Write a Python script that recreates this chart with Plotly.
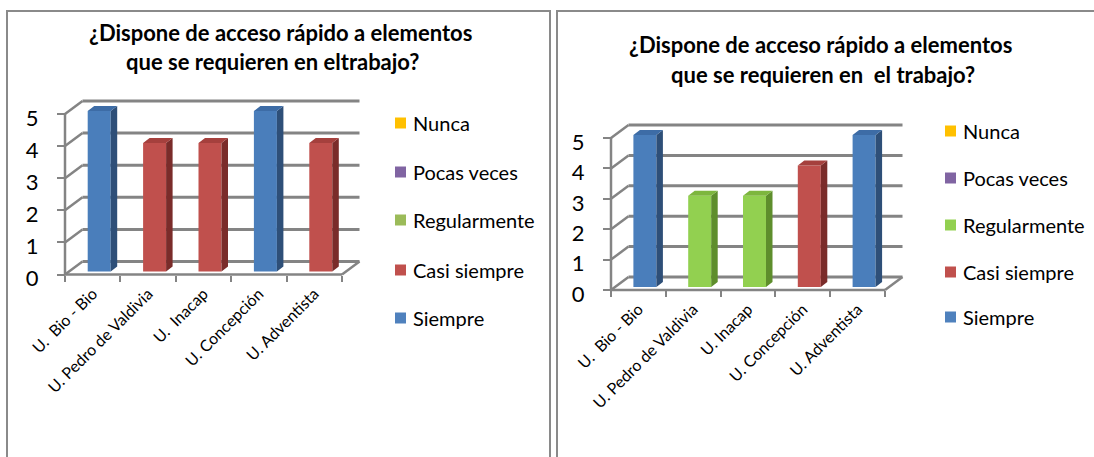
import plotly.graph_objects as go

W, H = 1094, 457

# ---------------- data ----------------
categories_left = ["U.\u00a0 Bio - Bio", "U. Pedro de Valdivia", "U.\u00a0 Inacap", "U. Concepción", "U. Adventista"]
categories_right = ["U.\u00a0 Bio - Bio", "U. Pedro de Valdivia", "U. Inacap", "U. Concepción", "U. Adventista"]
series_names = ["Nunca", "Pocas veces", "Regularmente", "Casi siempre", "Siempre"]

left_nunca = [0, 0, 0, 0, 0]
left_pocas_veces = [0, 0, 0, 0, 0]
left_regularmente = [0, 0, 0, 0, 0]
left_casi_siempre = [0, 4, 4, 0, 4]
left_siempre = [5, 0, 0, 5, 0]

right_nunca = [0, 0, 0, 0, 0]
right_pocas_veces = [0, 0, 0, 0, 0]
right_regularmente = [0, 3, 3, 0, 0]
right_casi_siempre = [0, 0, 0, 4, 0]
right_siempre = [5, 0, 0, 0, 5]

y_ticks = [0, 1, 2, 3, 4, 5]
title_left = ["¿Dispone de acceso rápido a elementos", "que se requieren en eltrabajo?"]
title_right = ["¿Dispone de acceso rápido a elementos", "que se requieren en\u00a0 el trabajo?"]

# ---------------- styles ----------------
FONT = "Lato, Carlito, 'Open Sans', sans-serif"
GRID = "#848484"
legend_colors_left = ["#FFC000", "#8064A2", "#9BBB59", "#C0504D", "#4F81BD"]
legend_colors_right = ["#FFC000", "#8064A2", "#92D050", "#C0504D", "#4F81BD"]
face_colors = {
    "Nunca": ("#FFC000", "#B38600", "#E0A800"),
    "Pocas veces": ("#8064A2", "#553F70", "#6D548C"),
    "Regularmente": ("#92D050", "#5E8E2C", "#7DB63E"),
    "Casi siempre": ("#C0504D", "#7A2C2A", "#A5403D"),
    "Siempre": ("#4A7EBB", "#2E4F78", "#3D6CA6"),
}

panels = [
    dict(xa="x", ya="y", cats=categories_left, title=title_left,
         series=[left_nunca, left_pocas_veces, left_regularmente, left_casi_siempre, left_siempre],
         legend_colors=legend_colors_left,
         x0=65, cw=55.4, y0=274.5, uy=32.1, dom_x=(15, 385), dom_y=(80, 300),
         title_x=(280, 272.5), title_y=(32, 62),
         leg_x=395, leg_y=[123, 172, 220, 270, 318]),
    dict(xa="x2", ya="y2", cats=categories_right, title=title_right,
         series=[right_nunca, right_pocas_veces, right_regularmente, right_casi_siempre, right_siempre],
         legend_colors=legend_colors_right,
         x0=611, cw=54.8, y0=290, uy=30.4, dom_x=(565, 925), dom_y=(95, 320),
         title_x=(820, 823), title_y=(45, 74),
         leg_x=945, leg_y=[131, 178, 225, 272, 317]),
]

fig = go.Figure()
shapes = []
annotations = []
layout_axes = {}

for pi, p in enumerate(panels):
    cw, uy = p["cw"], p["uy"]
    DX, DY = 17.5 / cw, 13 / uy          # depth of back wall
    SX, SY = 6.5 / cw, 3 / uy            # bar front-face shift
    BDX, BDY = 6.5 / cw, 5 / uy          # bar depth
    BW = 23 / cw
    n = len(p["cats"])
    xl, xr = -0.5, n - 0.5
    ymax = max(y_ticks)
    xa, ya = p["xa"], p["ya"]

    def px2x(px, p=p):
        return (px - p["x0"]) / p["cw"] - 0.5

    def py2y(py, p=p):
        return (p["y0"] - py) / p["uy"]

    sfx = "" if pi == 0 else "2"
    layout_axes["xaxis" + sfx] = dict(
        domain=[p["dom_x"][0] / W, p["dom_x"][1] / W],
        range=[px2x(p["dom_x"][0]), px2x(p["dom_x"][1])],
        anchor="free", position=1 - p["y0"] / H,
        tickvals=list(range(n)), ticktext=p["cats"], tickangle=-45,
        ticks="", showgrid=False, zeroline=False, showline=False,
        tickfont=dict(family=FONT, size=16, color="#000"),
        ticklabelstandoff=6,
        minor=dict(tickvals=[i - 0.5 for i in range(n + 1)], ticks="outside",
                   ticklen=6, tickwidth=2, tickcolor=GRID, showgrid=False),
        automargin=False, fixedrange=True,
    )
    layout_axes["yaxis" + sfx] = dict(
        domain=[1 - p["dom_y"][1] / H, 1 - p["dom_y"][0] / H],
        range=[py2y(p["dom_y"][1]), py2y(p["dom_y"][0])],
        anchor="free", position=p["x0"] / W,
        tickvals=y_ticks, ticks="outside", ticklen=8, tickwidth=2, tickcolor=GRID,
        showgrid=False, zeroline=False, showline=False,
        tickfont=dict(family=FONT, size=22, color="#000"),
        ticklabelstandoff=14, ticklabelshift=4,
        automargin=False, fixedrange=True,
    )

    # 3D frame: back wall gridlines, side wall diagonals, floor, front axis
    def seg(xa_, ya_, x0, y0, x1, y1, width=2.5, color=GRID):
        shapes.append(dict(type="line", xref=xa_, yref=ya_, x0=x0, y0=y0, x1=x1, y1=y1,
                           line=dict(color=color, width=width), layer="below"))

    for k in y_ticks:
        seg(xa, ya, xl + DX, k + DY, xr + DX, k + DY, width=3)
        seg(xa, ya, xl, k, xl + DX, k + DY)
    seg(xa, ya, xl, 0, xr, 0)
    seg(xa, ya, xr, 0, xr + DX, DY)
    seg(xa, ya, xl, 0, xl, ymax)

    # bars (stacked series)
    base = [0] * n
    for s_name, vals in zip(series_names, p["series"]):
        idx = [i for i in range(n) if vals[i] > 0]
        front, side, top = face_colors[s_name]
        if idx:
            fig.add_trace(go.Bar(
                x=[i + SX for i in idx], y=[vals[i] for i in idx],
                base=[base[i] + SY for i in idx], width=BW,
                marker=dict(color=front, line=dict(width=0)),
                xaxis=xa, yaxis=ya, name=s_name, showlegend=False,
                hovertemplate="%{customdata}: %{y}<extra>" + s_name + "</extra>",
                customdata=[p["cats"][i] for i in idx],
            ))
            sx, sy, tx, ty = [], [], [], []
            for i in idx:
                b = base[i] + SY
                t = base[i] + vals[i] + SY
                L = i + SX - BW / 2
                R = i + SX + BW / 2
                sx += [R, R + BDX, R + BDX, R, R, None]
                sy += [b, b + BDY, t + BDY, t, b, None]
                tx += [L, L + BDX, R + BDX, R, L, None]
                ty += [t, t + BDY, t + BDY, t, t, None]
            fig.add_trace(go.Scatter(x=sx, y=sy, fill="toself", fillcolor=side, mode="lines",
                                     line=dict(width=0, color=side), xaxis=xa, yaxis=ya,
                                     showlegend=False, hoverinfo="skip"))
            fig.add_trace(go.Scatter(x=tx, y=ty, fill="toself", fillcolor=top, mode="lines",
                                     line=dict(width=0, color=top), xaxis=xa, yaxis=ya,
                                     showlegend=False, hoverinfo="skip"))
        for i in range(n):
            base[i] += vals[i]

    # title
    for line, tx_, ty_ in zip(p["title"], p["title_x"], p["title_y"]):
        annotations.append(dict(text=line, xref="paper", yref="paper", x=tx_ / W, y=1 - ty_ / H,
                                xanchor="center", yanchor="middle", showarrow=False,
                                font=dict(family=FONT, size=22, color="#000", weight="bold")))

    # legend
    for s_name, col, ly in zip(series_names, p["legend_colors"], p["leg_y"]):
        lx = p["leg_x"]
        shapes.append(dict(type="rect", xref="paper", yref="paper",
                           x0=lx / W, x1=(lx + 11) / W, y0=1 - (ly + 5.5) / H, y1=1 - (ly - 5.5) / H,
                           fillcolor=col, line=dict(width=0)))
        annotations.append(dict(text=s_name, xref="paper", yref="paper", x=(lx + 16) / W, y=1 - ly / H,
                                xanchor="left", yanchor="middle", showarrow=False,
                                font=dict(family=FONT, size=20, color="#000")))

# panel borders
shapes.append(dict(type="rect", xref="paper", yref="paper", x0=7 / W, x1=550 / W,
                   y0=-0.2, y1=1 - 11 / H, line=dict(color="#8a8a8a", width=2)))
shapes.append(dict(type="rect", xref="paper", yref="paper", x0=557 / W, x1=1.2,
                   y0=-0.2, y1=1 - 11 / H, line=dict(color="#8a8a8a", width=2)))

fig.update_layout(
    width=W, height=H, margin=dict(l=0, r=0, t=0, b=0),
    paper_bgcolor="white", plot_bgcolor="rgba(0,0,0,0)",
    barmode="overlay", showlegend=False,
    shapes=shapes, annotations=annotations,
    **layout_axes,
)

fig.write_html("out.html", config={"displayModeBar": False})
